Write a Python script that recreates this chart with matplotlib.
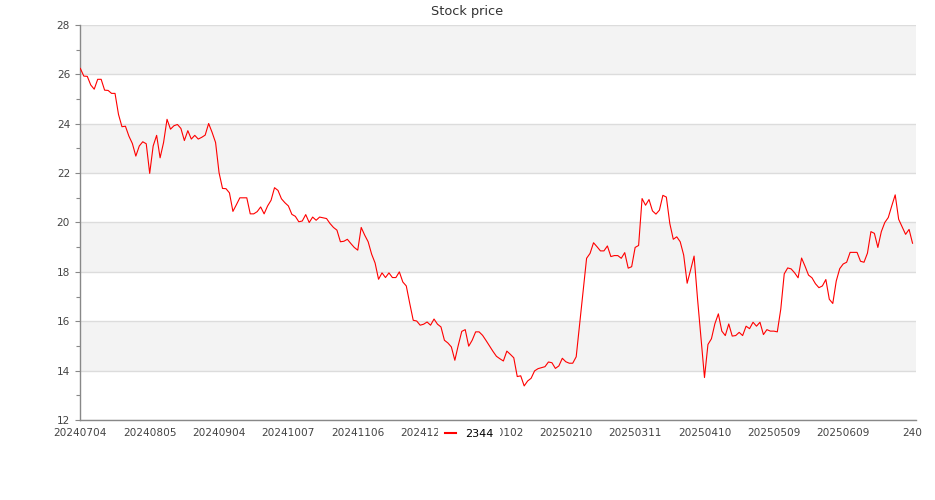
#!/usr/bin/env python3
"""Stock price line chart for 2344"""
import matplotlib
matplotlib.use('Agg')
import matplotlib.pyplot as plt
from matplotlib.ticker import MultipleLocator

TITLE = "Stock price"
SERIES_NAME = "2344"

# closing prices, one per trading day
price = [
    26.24, 25.93, 25.92, 25.57, 25.40, 25.80, 25.80, 25.36, 25.35, 25.23,
    25.23, 24.38, 23.88, 23.90, 23.50, 23.20, 22.69, 23.10, 23.27, 23.19,
    21.99, 23.10, 23.53, 22.62, 23.24, 24.18, 23.78, 23.92, 23.97, 23.81,
    23.32, 23.72, 23.38, 23.53, 23.38, 23.45, 23.54, 24.01, 23.65, 23.24,
    22.02, 21.38, 21.37, 21.20, 20.45, 20.72, 21.00, 21.00, 21.00, 20.35,
    20.35, 20.44, 20.63, 20.35, 20.67, 20.90, 21.41, 21.30, 20.96, 20.80,
    20.67, 20.33, 20.25, 20.03, 20.06, 20.32, 20.00, 20.22, 20.09, 20.22,
    20.19, 20.16, 19.96, 19.80, 19.69, 19.22, 19.24, 19.32, 19.15, 18.99,
    18.88, 19.80, 19.49, 19.22, 18.72, 18.36, 17.70, 17.96, 17.77, 17.96,
    17.77, 17.77, 18.00, 17.59, 17.43, 16.72, 16.04, 16.01, 15.84, 15.88,
    15.97, 15.84, 16.09, 15.88, 15.77, 15.23, 15.12, 14.96, 14.42, 15.03,
    15.59, 15.66, 14.99, 15.23, 15.57, 15.57, 15.43, 15.22, 15.00, 14.78,
    14.58, 14.48, 14.39, 14.79, 14.66, 14.52, 13.76, 13.79, 13.38, 13.58,
    13.69, 13.99, 14.08, 14.12, 14.16, 14.35, 14.32, 14.09, 14.19, 14.50,
    14.36, 14.30, 14.30, 14.56, 15.90, 17.20, 18.55, 18.75, 19.18, 19.02,
    18.85, 18.85, 19.05, 18.62, 18.66, 18.66, 18.55, 18.78, 18.15, 18.21,
    18.99, 19.07, 20.97, 20.70, 20.93, 20.47, 20.34, 20.50, 21.10, 21.03,
    19.96, 19.32, 19.42, 19.22, 18.68, 17.54, 18.08, 18.64, 16.90, 15.30,
    13.72, 15.06, 15.29, 15.90, 16.30, 15.60, 15.42, 15.89, 15.40, 15.42,
    15.55, 15.42, 15.80, 15.70, 15.96, 15.80, 15.96, 15.46, 15.66, 15.60,
    15.60, 15.57, 16.49, 17.92, 18.16, 18.12, 17.96, 17.76, 18.56, 18.23,
    17.87, 17.76, 17.52, 17.36, 17.43, 17.69, 16.89, 16.72, 17.63, 18.13,
    18.32, 18.39, 18.79, 18.79, 18.79, 18.43, 18.39, 18.76, 19.63, 19.56,
    18.99, 19.63, 20.00, 20.20, 20.67, 21.12, 20.13, 19.83, 19.52, 19.72,
    19.16,
]

# x-axis labels shown every 20 trading days
tick_labels = ['20240704', '20240805', '20240904', '20241007', '20241106',
               '20241204', '20250102', '20250210', '20250311', '20250410',
               '20250509', '20250609', '240']
tick_step = 20

y_min, y_max, y_step = 12, 28, 2


def main():
    fig = plt.figure(figsize=(9.35, 5.0), dpi=100)
    ax = fig.add_axes([80 / 935, 80 / 500, 836 / 935, 395 / 500])

    x = list(range(len(price)))
    line, = ax.plot(x, price, color='#ff0000', linewidth=0.8, label=SERIES_NAME, zorder=3)

    # alternating background bands
    for k, lo in enumerate(range(y_min, y_max, y_step)):
        if k % 2 == 1:
            ax.axhspan(lo, lo + y_step, color='#f3f3f3', lw=0, zorder=0)

    ax.set_xlim(-0.1, len(price))
    ax.set_ylim(y_min, y_max)
    ax.yaxis.set_major_locator(MultipleLocator(y_step))
    ax.yaxis.set_minor_locator(MultipleLocator(y_step / 2))
    ax.yaxis.grid(True, which='major', color='#dcdcdc', linewidth=1.0, zorder=1)
    ax.set_axisbelow(True)

    ax.set_xticks(range(0, len(price), tick_step))
    ax.set_xticklabels(tick_labels)

    for side in ('top', 'right'):
        ax.spines[side].set_visible(False)
    for side in ('left', 'bottom'):
        ax.spines[side].set_color('#888888')
        ax.spines[side].set_linewidth(1.0)

    ax.tick_params(axis='x', length=0, pad=6, labelsize=7.6, labelcolor='#444444')
    ax.tick_params(axis='y', which='major', length=3.6, width=0.8, color='#888888',
                   pad=3.6, labelsize=7.6, labelcolor='#444444')
    ax.tick_params(axis='y', which='minor', length=3.0, width=0.8, color='#888888')

    fig.text(467 / 935, 1 - 12 / 500, TITLE, ha='center', va='center',
             fontsize=9.3, color='#333333')

    # legend sits on top of the x labels, as in the original
    leg = ax.legend(handles=[line], loc='center',
                    bbox_to_anchor=(469 / 935, 1 - 434 / 500),
                    bbox_transform=fig.transFigure,
                    frameon=True, fancybox=False, facecolor='white',
                    edgecolor='none', framealpha=1.0, fontsize=8,
                    handlelength=1.0, handletextpad=0.8, borderpad=0.6)
    leg.get_lines()[0].set_linewidth(1.5)

    fig.savefig('out.png', dpi=100)


if __name__ == '__main__':
    main()
